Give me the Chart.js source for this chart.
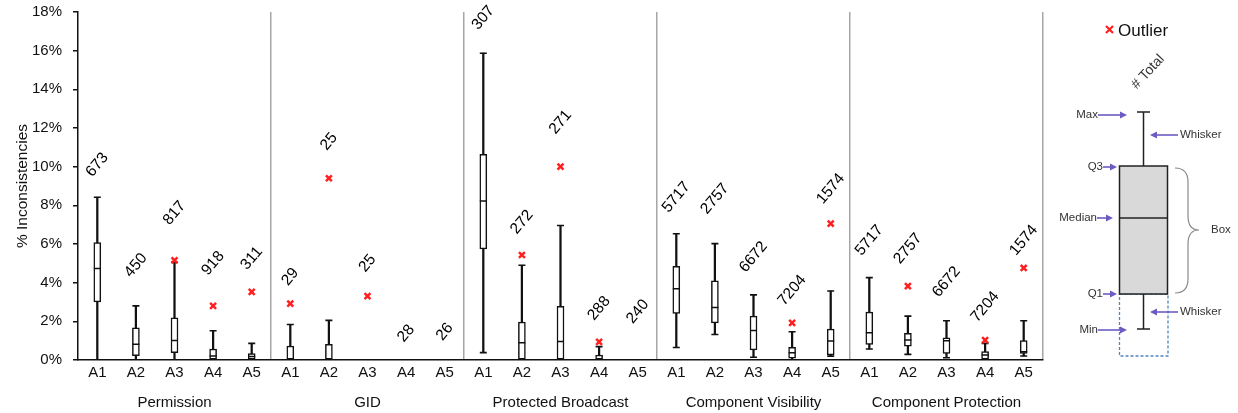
<!DOCTYPE html>
<html>
<head>
<meta charset="utf-8">
<script src="https://cdn.jsdelivr.net/npm/chart.js@4.4.1/dist/chart.umd.min.js"></script>
<style>
  html, body { margin: 0; padding: 0; background: #fff; }
  #wrap { width: 1238px; height: 413px; position: relative; }
</style>
</head>
<body>
<div id="wrap"><canvas id="boxChart"></canvas></div>
<script>
// ========== DATA ==========
const groups = ['Permission', 'GID', 'Protected Broadcast', 'Component Visibility', 'Component Protection'];
const tools = ['A1', 'A2', 'A3', 'A4', 'A5'];
const yTicks = [0, 2, 4, 6, 8, 10, 12, 14, 16, 18];

// box statistics in %, one entry per category (group x tool), null = nothing drawn
const mins    = [0, 0, 0, 0, 0,        0, 0, null, null, null,        0.38, 0, 0, 0, null,       0.65, 1.32, 0.14, 0, 0.2,      0.57, 0.29, 0.12, 0, 0.21];
const q1s     = [3.01, 0.22, 0.38, 0, 0, 0, 0, null, null, null,      5.74, 0, 0, 0, null,       2.41, 1.92, 0.52, 0.1, 0.26,   0.81, 0.72, 0.34, 0, 0.34];
const medians = [4.73, 0.81, 1.01, 0.21, 0.18, 0, 0, null, null, null, 8.22, 0.89, 0.96, 0, null, 3.68, 2.72, 1.53, 0.38, 0.98, 1.41, 1.03, 1.0, 0.26, 0.43];
const q3s     = [6.07, 1.67, 2.18, 0.57, 0.33, 0.72, 0.81, null, null, null, 10.64, 1.96, 2.78, 0.26, null, 4.85, 4.09, 2.27, 0.65, 1.6, 2.48, 1.38, 1.15, 0.43, 1.0];
const maxs    = [8.42, 2.8, 5.05, 1.51, 0.86, 1.84, 2.05, null, null, null, 15.87, 4.9, 6.96, 0.69, null, 6.53, 6.02, 3.37, 1.46, 3.57, 4.26, 2.27, 2.03, 0.86, 2.03];
const outliers = [null, null, 5.16, 2.8, 3.52, 2.92, 9.4, 3.3, null, null, null, 5.43, 10.0, 0.94, null, null, null, null, 1.92, 7.05, null, 3.82, null, 1.03, 4.76];
// # total per category and the level (in %) where its label sits
const totals      = [673, 450, 817, 918, 311, 29, 25, 25, 28, 26, 307, 272, 271, 288, 240, 5717, 2757, 6672, 7204, 1574, 5717, 2757, 6672, 7204, 1574];
const labelLevels = [10.1, 4.9, 7.6, 5.0, 5.26, 4.3, 11.3, 5.0, 1.37, 1.46, 17.7, 7.13, 12.3, 2.67, 2.5, 8.42, 8.34, 5.33, 3.6, 8.85, 6.19, 5.76, 4.04, 2.75, 6.19];

const categories = [];
groups.forEach(() => tools.forEach(t => categories.push(t)));

const FONT = "'Liberation Sans', Arial, sans-serif";
const SEP_COLOR = '#a6a6a6';
const PURPLE = '#6b5cc4';

// ========== PLUGIN: ROTATED "# TOTAL" LABELS ==========
const totalLabels = {
  id: 'totalLabels',
  afterDatasetsDraw(chart) {
    const { ctx, scales: { x, y } } = chart;
    ctx.save();
    ctx.font = '15.5px ' + FONT;
    ctx.fillStyle = '#000';
    ctx.textAlign = 'center';
    ctx.textBaseline = 'middle';
    totals.forEach((t, i) => {
      ctx.save();
      ctx.translate(x.getPixelForValue(i), y.getPixelForValue(labelLevels[i]));
      ctx.rotate(-50 * Math.PI / 180);
      ctx.fillText(String(t), 0, 0);
      ctx.restore();
    });
    ctx.restore();
  }
};

// ========== PLUGIN: BOX PLOT EXPLANATION ON THE RIGHT ==========
function arrow(ctx, x1, x2, y) {
  const dir = x2 > x1 ? 1 : -1;
  ctx.beginPath();
  ctx.moveTo(x1, y);
  ctx.lineTo(x2 - dir * 5, y);
  ctx.stroke();
  ctx.beginPath();
  ctx.moveTo(x2, y);
  ctx.lineTo(x2 - dir * 7, y - 3.5);
  ctx.lineTo(x2 - dir * 7, y + 3.5);
  ctx.closePath();
  ctx.fill();
}

const boxLegend = {
  id: 'boxLegend',
  afterDraw(chart) {
    const ctx = chart.ctx;
    const L = chart.chartArea.right; // 1043
    ctx.save();

    // outlier marker + text
    ctx.strokeStyle = '#ff2020';
    ctx.lineWidth = 2.2;
    ctx.beginPath();
    ctx.moveTo(L + 63, 26); ctx.lineTo(L + 70, 33);
    ctx.moveTo(L + 70, 26); ctx.lineTo(L + 63, 33);
    ctx.stroke();
    ctx.fillStyle = '#111';
    ctx.font = '17px ' + FONT;
    ctx.textAlign = 'left';
    ctx.textBaseline = 'middle';
    ctx.fillText('Outlier', L + 75, 31);

    // "# Total" rotated
    ctx.save();
    ctx.translate(L + 105, 72);
    ctx.rotate(-47 * Math.PI / 180);
    ctx.font = '14px ' + FONT;
    ctx.fillStyle = '#333';
    ctx.textAlign = 'center';
    ctx.fillText('# Total', 0, 0);
    ctx.restore();

    // dashed region under the box
    ctx.setLineDash([3, 2]);
    ctx.strokeStyle = '#4f86bd';
    ctx.lineWidth = 1.3;
    ctx.strokeRect(L + 76.5, 294, 48.5, 62);
    ctx.setLineDash([]);

    // whisker
    ctx.strokeStyle = '#222';
    ctx.lineWidth = 1.5;
    ctx.beginPath();
    ctx.moveTo(L + 100.5, 112); ctx.lineTo(L + 100.5, 329);
    ctx.moveTo(L + 94, 112); ctx.lineTo(L + 107, 112);
    ctx.moveTo(L + 94, 329); ctx.lineTo(L + 107, 329);
    ctx.stroke();

    // box
    ctx.fillStyle = '#d9d9d9';
    ctx.fillRect(L + 76.5, 166, 48, 128);
    ctx.strokeRect(L + 76.5, 166, 48, 128);
    ctx.beginPath();
    ctx.moveTo(L + 76.5, 218); ctx.lineTo(L + 124.5, 218);
    ctx.stroke();

    // brace
    ctx.strokeStyle = '#8a8a8a';
    ctx.lineWidth = 1.2;
    ctx.beginPath();
    ctx.moveTo(L + 132, 168);
    ctx.quadraticCurveTo(L + 145, 168, L + 145, 182);
    ctx.lineTo(L + 145, 216);
    ctx.quadraticCurveTo(L + 145, 230, L + 156, 230);
    ctx.quadraticCurveTo(L + 145, 230, L + 145, 244);
    ctx.lineTo(L + 145, 279);
    ctx.quadraticCurveTo(L + 145, 293, L + 132, 293);
    ctx.stroke();

    // arrows and their labels
    ctx.strokeStyle = PURPLE;
    ctx.fillStyle = PURPLE;
    ctx.lineWidth = 1.6;
    arrow(ctx, L + 55, L + 84, 115);
    arrow(ctx, L + 135, L + 107, 135);
    arrow(ctx, L + 60, L + 74, 167);
    arrow(ctx, L + 54, L + 70, 218);
    arrow(ctx, L + 60, L + 74, 294);
    arrow(ctx, L + 135, L + 107, 312);
    arrow(ctx, L + 55, L + 84, 330);

    ctx.fillStyle = '#333';
    ctx.font = '11.5px ' + FONT;
    ctx.textBaseline = 'middle';
    ctx.textAlign = 'right';
    ctx.fillText('Max', L + 55, 115);
    ctx.fillText('Q3', L + 60, 167);
    ctx.fillText('Median', L + 54, 218);
    ctx.fillText('Q1', L + 60, 294);
    ctx.fillText('Min', L + 55, 330);
    ctx.textAlign = 'left';
    ctx.fillText('Whisker', L + 137, 135);
    ctx.fillText('Whisker', L + 137, 312);
    ctx.fillText('Box', L + 168, 230);

    ctx.restore();
  }
};

// ========== CHART ==========
function initChart() {
  const canvas = document.getElementById('boxChart');
  const hasBox = i => q1s[i] !== null;

  new Chart(canvas, {
    type: 'bar',
    data: {
      labels: categories,
      datasets: [
        {
          // whisker line min..max
          type: 'bar',
          data: categories.map((_, i) => hasBox(i) ? [mins[i], maxs[i]] : null),
          backgroundColor: '#111',
          barThickness: 1.6,
          grouped: false,
          order: 5
        },
        {
          // box q1..q3
          type: 'bar',
          data: categories.map((_, i) => hasBox(i) ? [q1s[i], q3s[i]] : null),
          backgroundColor: '#fff',
          borderColor: '#111',
          borderWidth: 1.5,
          borderSkipped: false,
          barThickness: 7,
          grouped: false,
          order: 4
        },
        {
          // median
          type: 'line',
          data: medians,
          showLine: false,
          pointStyle: 'line',
          pointRadius: 3.5,
          borderColor: '#111',
          borderWidth: 1.5,
          order: 3
        },
        {
          // whisker caps (max)
          type: 'line',
          data: maxs,
          showLine: false,
          pointStyle: 'line',
          pointRadius: 3.5,
          borderColor: '#111',
          borderWidth: 1.6,
          order: 3
        },
        {
          // whisker caps (min)
          type: 'line',
          data: mins,
          showLine: false,
          pointStyle: 'line',
          pointRadius: 3.5,
          borderColor: '#111',
          borderWidth: 1.6,
          order: 3
        },
        {
          // outliers
          type: 'line',
          data: outliers,
          showLine: false,
          pointStyle: 'crossRot',
          pointRadius: 4.2,
          borderColor: '#ff2020',
          borderWidth: 2.5,
          order: 1
        }
      ]
    },
    options: {
      responsive: true,
      maintainAspectRatio: false,
      animation: false,
      events: [],
      layout: { padding: { top: 2, right: 195, bottom: 0, left: 0 } },
      plugins: {
        legend: { display: false },
        tooltip: { enabled: false }
      },
      scales: {
        x: {
          type: 'category',
          offset: true,
          afterFit: s => { s.height = 22; },
          grid: {
            offset: true,
            drawTicks: false,
            lineWidth: 1.5,
            color: ctx => ctx.type === 'tick'
              ? (ctx.index > 0 && ctx.index % 5 === 0 ? SEP_COLOR : 'rgba(0,0,0,0)')
              : SEP_COLOR
          },
          border: { color: '#111', width: 1.5 },
          ticks: { color: '#111', font: { family: FONT, size: 15 }, padding: 4, maxRotation: 0, autoSkip: false }
        },
        x2: {
          type: 'category',
          labels: groups,
          position: 'bottom',
          offset: true,
          weight: 1,
          afterFit: s => { s.height = 31; },
          grid: { display: false },
          border: { display: false },
          ticks: { color: '#111', font: { family: FONT, size: 15 }, padding: 4, maxRotation: 0, autoSkip: false }
        },
        y: {
          min: 0,
          max: 18,
          afterFit: s => { s.width = 78; s.paddingTop = 12; s.paddingBottom = 0; },
          afterBuildTicks: s => { s.ticks = yTicks.map(v => ({ value: v })); },
          grid: { drawOnChartArea: false, tickLength: 5, tickColor: '#111', lineWidth: 1.5 },
          border: { color: '#111', width: 1.5 },
          ticks: {
            color: '#111',
            font: { family: FONT, size: 15 },
            padding: 11,
            callback: v => v + '%'
          },
          title: {
            display: true,
            text: '% Inconsistencies',
            color: '#111',
            font: { family: FONT, size: 15.5 },
            padding: { top: 13, bottom: 0 }
          }
        }
      }
    },
    plugins: [totalLabels, boxLegend]
  });
}

document.addEventListener('DOMContentLoaded', () => {
  initChart();
});
</script>
</body>
</html>
